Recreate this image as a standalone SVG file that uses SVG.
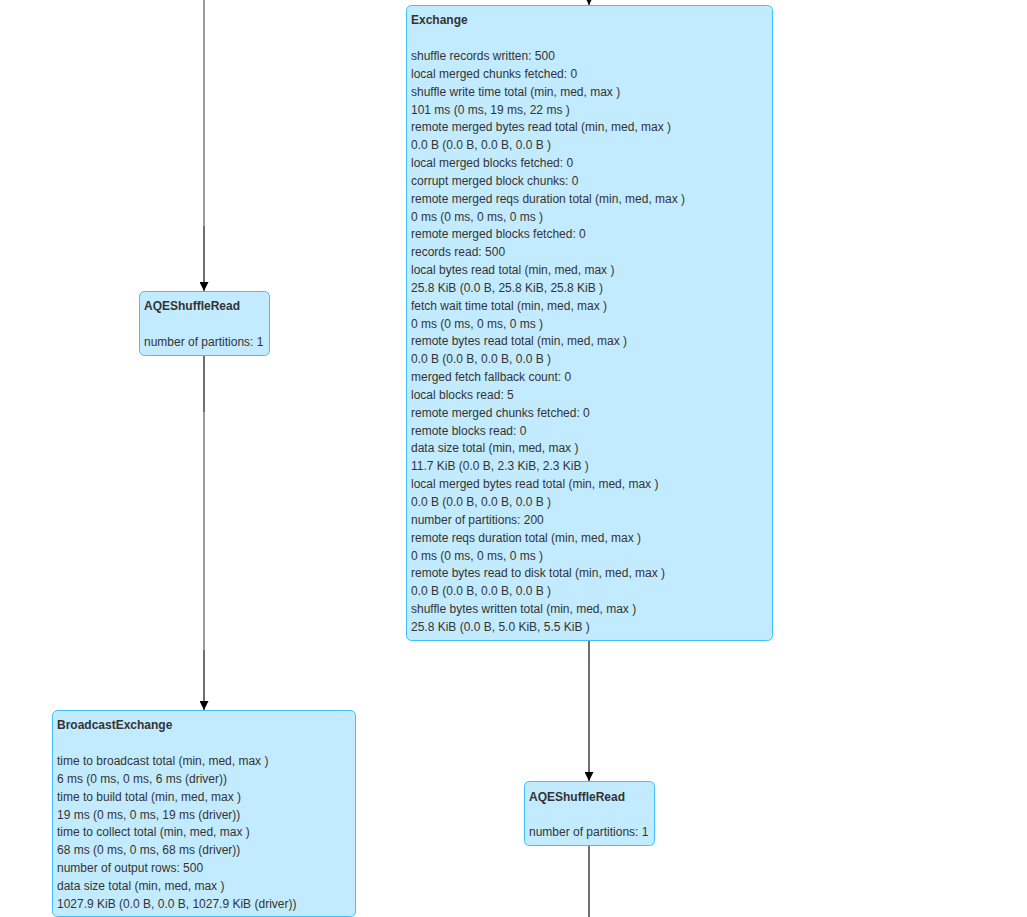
<svg xmlns="http://www.w3.org/2000/svg" width="1027" height="917" viewBox="0 0 1027 917">
<defs>
<marker id="arr" viewBox="0 0 10 10" refX="10" refY="5" markerWidth="9" markerHeight="9" markerUnits="userSpaceOnUse" orient="auto">
<path d="M0,0 L10,5 L0,10 z" fill="#000"/>
</marker>
<style>
.box{fill:#C3EBFF;stroke:#3EC0FF;stroke-width:1}
text{font-family:"Liberation Sans",Arial,sans-serif;font-size:12px;fill:#333}
.t{font-weight:bold}
.e{stroke:#222;stroke-width:1.3;fill:none}
.e2{stroke:#666;stroke-width:1.3;fill:none}
</style>
</defs>
<rect width="1027" height="917" fill="#fff"/>
<g id="connectors">
<line class="e2" x1="204" y1="0" x2="204" y2="226"/>
<line class="e" x1="204" y1="226" x2="204" y2="291" marker-end="url(#arr)"/>
<line class="e" x1="204" y1="356" x2="204" y2="412"/>
<line class="e2" x1="204" y1="412" x2="204" y2="650"/>
<line class="e" x1="204" y1="650" x2="204" y2="710" marker-end="url(#arr)"/>
<line class="e" x1="589" y1="0" x2="589" y2="5" marker-end="url(#arr)"/>
<line class="e" x1="589" y1="641" x2="589" y2="781" marker-end="url(#arr)"/>
<line class="e" x1="589" y1="846" x2="589" y2="917"/>
</g>
<g id="exchange">
<rect class="box" x="406.5" y="5.5" width="366" height="635" rx="5"/>
<text x="411" y="24" class="t">Exchange</text>
<text x="411" y="60">
<tspan x="411" dy="0">shuffle records written: 500</tspan>
<tspan x="411" dy="17.84">local merged chunks fetched: 0</tspan>
<tspan x="411" dy="17.84">shuffle write time total (min, med, max )</tspan>
<tspan x="411" dy="17.84">101 ms (0 ms, 19 ms, 22 ms )</tspan>
<tspan x="411" dy="17.84">remote merged bytes read total (min, med, max )</tspan>
<tspan x="411" dy="17.84">0.0 B (0.0 B, 0.0 B, 0.0 B )</tspan>
<tspan x="411" dy="17.84">local merged blocks fetched: 0</tspan>
<tspan x="411" dy="17.84">corrupt merged block chunks: 0</tspan>
<tspan x="411" dy="17.84">remote merged reqs duration total (min, med, max )</tspan>
<tspan x="411" dy="17.84">0 ms (0 ms, 0 ms, 0 ms )</tspan>
<tspan x="411" dy="17.84">remote merged blocks fetched: 0</tspan>
<tspan x="411" dy="17.84">records read: 500</tspan>
<tspan x="411" dy="17.84">local bytes read total (min, med, max )</tspan>
<tspan x="411" dy="17.84">25.8 KiB (0.0 B, 25.8 KiB, 25.8 KiB )</tspan>
<tspan x="411" dy="17.84">fetch wait time total (min, med, max )</tspan>
<tspan x="411" dy="17.84">0 ms (0 ms, 0 ms, 0 ms )</tspan>
<tspan x="411" dy="17.84">remote bytes read total (min, med, max )</tspan>
<tspan x="411" dy="17.84">0.0 B (0.0 B, 0.0 B, 0.0 B )</tspan>
<tspan x="411" dy="17.84">merged fetch fallback count: 0</tspan>
<tspan x="411" dy="17.84">local blocks read: 5</tspan>
<tspan x="411" dy="17.84">remote merged chunks fetched: 0</tspan>
<tspan x="411" dy="17.84">remote blocks read: 0</tspan>
<tspan x="411" dy="17.84">data size total (min, med, max )</tspan>
<tspan x="411" dy="17.84">11.7 KiB (0.0 B, 2.3 KiB, 2.3 KiB )</tspan>
<tspan x="411" dy="17.84">local merged bytes read total (min, med, max )</tspan>
<tspan x="411" dy="17.84">0.0 B (0.0 B, 0.0 B, 0.0 B )</tspan>
<tspan x="411" dy="17.84">number of partitions: 200</tspan>
<tspan x="411" dy="17.84">remote reqs duration total (min, med, max )</tspan>
<tspan x="411" dy="17.84">0 ms (0 ms, 0 ms, 0 ms )</tspan>
<tspan x="411" dy="17.84">remote bytes read to disk total (min, med, max )</tspan>
<tspan x="411" dy="17.84">0.0 B (0.0 B, 0.0 B, 0.0 B )</tspan>
<tspan x="411" dy="17.84">shuffle bytes written total (min, med, max )</tspan>
<tspan x="411" dy="17.84">25.8 KiB (0.0 B, 5.0 KiB, 5.5 KiB )</tspan>
</text>
</g>
<g id="aqe-left">
<rect class="box" x="139.5" y="291.5" width="130" height="64" rx="5"/>
<text x="144" y="310" class="t">AQEShuffleRead</text>
<text x="144" y="346">number of partitions: 1</text>
</g>
<g id="broadcast">
<rect class="box" x="52.5" y="710.5" width="303" height="206" rx="5"/>
<text x="57" y="729" class="t">BroadcastExchange</text>
<text x="57" y="765">
<tspan x="57" dy="0">time to broadcast total (min, med, max )</tspan>
<tspan x="57" dy="17.84">6 ms (0 ms, 0 ms, 6 ms (driver))</tspan>
<tspan x="57" dy="17.84">time to build total (min, med, max )</tspan>
<tspan x="57" dy="17.84">19 ms (0 ms, 0 ms, 19 ms (driver))</tspan>
<tspan x="57" dy="17.84">time to collect total (min, med, max )</tspan>
<tspan x="57" dy="17.84">68 ms (0 ms, 0 ms, 68 ms (driver))</tspan>
<tspan x="57" dy="17.84">number of output rows: 500</tspan>
<tspan x="57" dy="17.84">data size total (min, med, max )</tspan>
<tspan x="57" dy="17.84">1027.9 KiB (0.0 B, 0.0 B, 1027.9 KiB (driver))</tspan>
</text>
</g>
<g id="aqe-right">
<rect class="box" x="524.5" y="781.5" width="130" height="64" rx="5"/>
<text x="529" y="800.5" class="t">AQEShuffleRead</text>
<text x="529" y="836">number of partitions: 1</text>
</g>
</svg>
